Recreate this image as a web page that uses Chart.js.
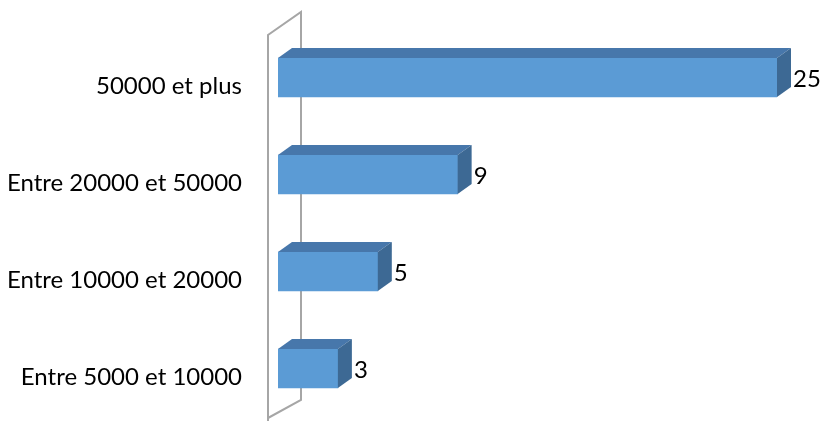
<!DOCTYPE html>
<html>
<head>
<meta charset="utf-8">
<script src="https://cdn.jsdelivr.net/npm/chart.js@4/dist/chart.umd.min.js"></script>
<style>
    html, body { margin: 0; padding: 0; background: #fff; }
    #wrap { width: 820px; height: 421px; position: relative; }
</style>
</head>
<body>
<div id="wrap"><canvas id="chart"></canvas></div>
<script>
'use strict';

// ============================================================================
// Data
// ============================================================================

const categories = ['50000 et plus', 'Entre 20000 et 50000', 'Entre 10000 et 20000', 'Entre 5000 et 10000'];
const values = [25, 9, 5, 3];

// ============================================================================
// Colors
// ============================================================================

const colors = {
    front: '#5B9BD5',
    top: '#4777AB',
    side: '#3D6994',
    wall: '#A6A6A6',
    text: '#000000'
};

const FONT = "Lato, 'Open Sans', sans-serif";
const DEPTH_X = 14;
const DEPTH_Y = 10;

// ============================================================================
// Plugins
// ============================================================================

// back wall of the 3D plot, drawn behind the bars
const wallPlugin = {
    id: 'wall',
    beforeDatasetsDraw(chart) {
        const { ctx, chartArea } = chart;
        const xl = chartArea.left - 10;
        const xr = chartArea.left + 23;
        ctx.save();
        ctx.strokeStyle = colors.wall;
        ctx.lineWidth = 2;
        ctx.lineJoin = 'miter';
        ctx.beginPath();
        ctx.moveTo(xl, chart.height + 2);
        ctx.lineTo(xl, chartArea.top + 6);
        ctx.lineTo(xr, chartArea.top - 17);
        ctx.lineTo(xr, chartArea.bottom - 17);
        ctx.lineTo(xl, chartArea.bottom + 1);
        ctx.stroke();
        ctx.restore();
    }
};

// category labels, set a little below each bar like the 3D projection does
const categoryLabelPlugin = {
    id: 'categoryLabels',
    afterDraw(chart) {
        const { ctx, chartArea } = chart;
        const yScale = chart.scales.y;
        ctx.save();
        ctx.fillStyle = colors.text;
        ctx.font = '24px ' + FONT;
        ctx.textAlign = 'right';
        ctx.textBaseline = 'middle';
        categories.forEach((label, i) => {
            ctx.fillText(label, chartArea.left - 36, yScale.getPixelForValue(i) + 9);
        });
        ctx.restore();
    }
};

// top and side faces of the bars plus value labels
const bar3dPlugin = {
    id: 'bar3d',
    afterDatasetsDraw(chart) {
        const { ctx } = chart;
        const meta = chart.getDatasetMeta(0);
        ctx.save();
        meta.data.forEach((bar, i) => {
            const x0 = bar.base;
            const x1 = bar.x;
            const yTop = bar.y - bar.height / 2;
            const yBot = bar.y + bar.height / 2;

            ctx.fillStyle = colors.top;
            ctx.beginPath();
            ctx.moveTo(x0, yTop);
            ctx.lineTo(x0 + DEPTH_X, yTop - DEPTH_Y);
            ctx.lineTo(x1 + DEPTH_X, yTop - DEPTH_Y);
            ctx.lineTo(x1, yTop);
            ctx.closePath();
            ctx.fill();

            ctx.fillStyle = colors.side;
            ctx.beginPath();
            ctx.moveTo(x1, yTop);
            ctx.lineTo(x1 + DEPTH_X, yTop - DEPTH_Y);
            ctx.lineTo(x1 + DEPTH_X, yBot - DEPTH_Y);
            ctx.lineTo(x1, yBot);
            ctx.closePath();
            ctx.fill();

            ctx.fillStyle = colors.text;
            ctx.font = '24px ' + FONT;
            ctx.textAlign = 'left';
            ctx.textBaseline = 'middle';
            ctx.fillText(String(values[i]), x1 + DEPTH_X + 2, bar.y + 2);
        });
        ctx.restore();
    }
};

// ============================================================================
// Chart
// ============================================================================

new Chart(document.getElementById('chart'), {
    type: 'bar',
    data: {
        labels: categories,
        datasets: [{
            data: values,
            backgroundColor: colors.front,
            borderWidth: 0,
            barThickness: 39
        }]
    },
    options: {
        indexAxis: 'y',
        responsive: true,
        maintainAspectRatio: false,
        animation: false,
        layout: {
            padding: { top: 29, bottom: 4, left: 278, right: 43 }
        },
        plugins: {
            legend: { display: false },
            tooltip: { enabled: false }
        },
        scales: {
            x: {
                display: false,
                min: 0,
                max: 25
            },
            y: {
                display: false
            }
        }
    },
    plugins: [wallPlugin, categoryLabelPlugin, bar3dPlugin]
});
</script>
</body>
</html>
